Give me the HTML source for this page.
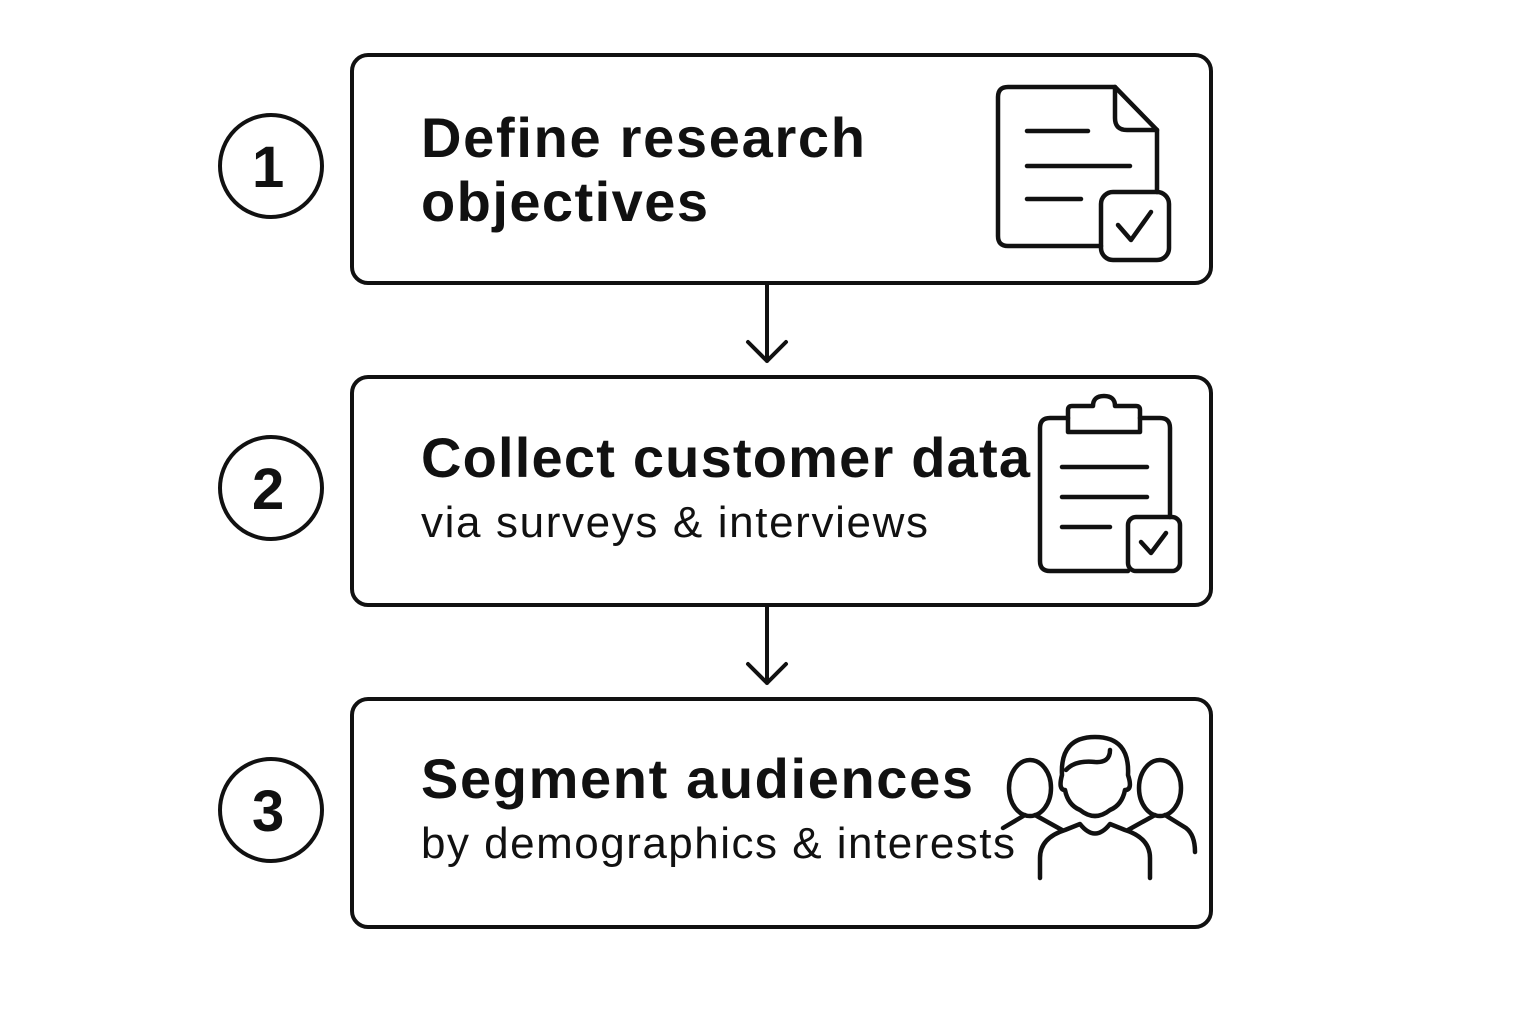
<!DOCTYPE html>
<html><head><meta charset="utf-8"><style>
body{margin:0;background:#fff;}
svg{display:block}
text{font-family:"Liberation Sans",sans-serif;fill:#111}
</style></head><body>
<svg width="1536" height="1024" viewBox="0 0 1536 1024" xmlns="http://www.w3.org/2000/svg">
<rect width="1536" height="1024" fill="#fff"/>
<g fill="none" stroke="#111" stroke-width="4" stroke-linecap="round" stroke-linejoin="round">
<rect x="352" y="55" width="859" height="228" rx="16"/>
<rect x="352" y="377" width="859" height="228" rx="16"/>
<rect x="352" y="699" width="859" height="228" rx="16"/>
<circle cx="271" cy="166" r="51"/>
<circle cx="271" cy="488" r="51"/>
<circle cx="271" cy="810" r="51"/>
<path d="M767 285V361M748 342L767 361L786 342"/>
<path d="M767 607V683M748 664L767 683L786 664"/>
</g>
<g fill="none" stroke="#111" stroke-width="4.5" stroke-linecap="round" stroke-linejoin="round">
<path d="M1101 246H1008Q998 246 998 236V97Q998 87 1008 87H1115L1157 130V192"/>
<path d="M1115 87V118Q1115 130 1127 130H1157"/>
<path d="M1027 131H1088M1027 166H1130M1027 199H1081"/>
<rect x="1101" y="192" width="68" height="68" rx="12"/>
<path d="M1118 225L1131 240L1151 212"/>
<path d="M1128 571H1050Q1040 571 1040 561V428Q1040 418 1050 418H1068M1140 418H1160Q1170 418 1170 428V517"/>
<path d="M1068 432V410Q1068 406 1072 406H1093Q1093 396 1104 396Q1115 396 1115 406H1136Q1140 406 1140 410V432Z"/>
<path d="M1062 467H1147M1062 497H1147M1062 527H1110"/>
<rect x="1128" y="517" width="52" height="54" rx="8"/>
<path d="M1141 542L1151 553L1166 533"/>
<ellipse cx="1030" cy="788" rx="21" ry="28"/>
<ellipse cx="1160" cy="788" rx="21" ry="28"/>
<path d="M1003 828L1025 815M1035 815L1062 830"/>
<path d="M1155 815L1128 830M1165 815L1186 828Q1195 835 1195 852"/>
<path d="M1040 878V858Q1040 838 1065 830L1080 824Q1095 843 1110 824L1125 830Q1150 838 1150 858V878"/>
<path d="M1080 810Q1068 805 1065 790Q1058 790 1062 775Q1060 737 1095 737Q1130 737 1128 775Q1133 790 1125 790Q1122 805 1110 810Q1095 822 1080 810Z"/>
<path d="M1066 770Q1075 760 1095 762Q1110 763 1110 750"/>
</g>
<g font-weight="bold" font-size="56">
<text x="252" y="187" font-size="58">1</text>
<text x="252" y="509" font-size="58">2</text>
<text x="252" y="831" font-size="58">3</text>
<text x="421" y="157" textLength="444" lengthAdjust="spacing">Define research</text>
<text x="421" y="221" textLength="287" lengthAdjust="spacing">objectives</text>
<text x="421" y="477" textLength="609" lengthAdjust="spacing">Collect customer data</text>
<text x="421" y="798" textLength="552" lengthAdjust="spacing">Segment audiences</text>
</g>
<text x="421" y="537" font-size="44" textLength="507" lengthAdjust="spacing">via surveys &amp; interviews</text>
<text x="421" y="858" font-size="44" textLength="594" lengthAdjust="spacing">by demographics &amp; interests</text>
</svg>
</body></html>
